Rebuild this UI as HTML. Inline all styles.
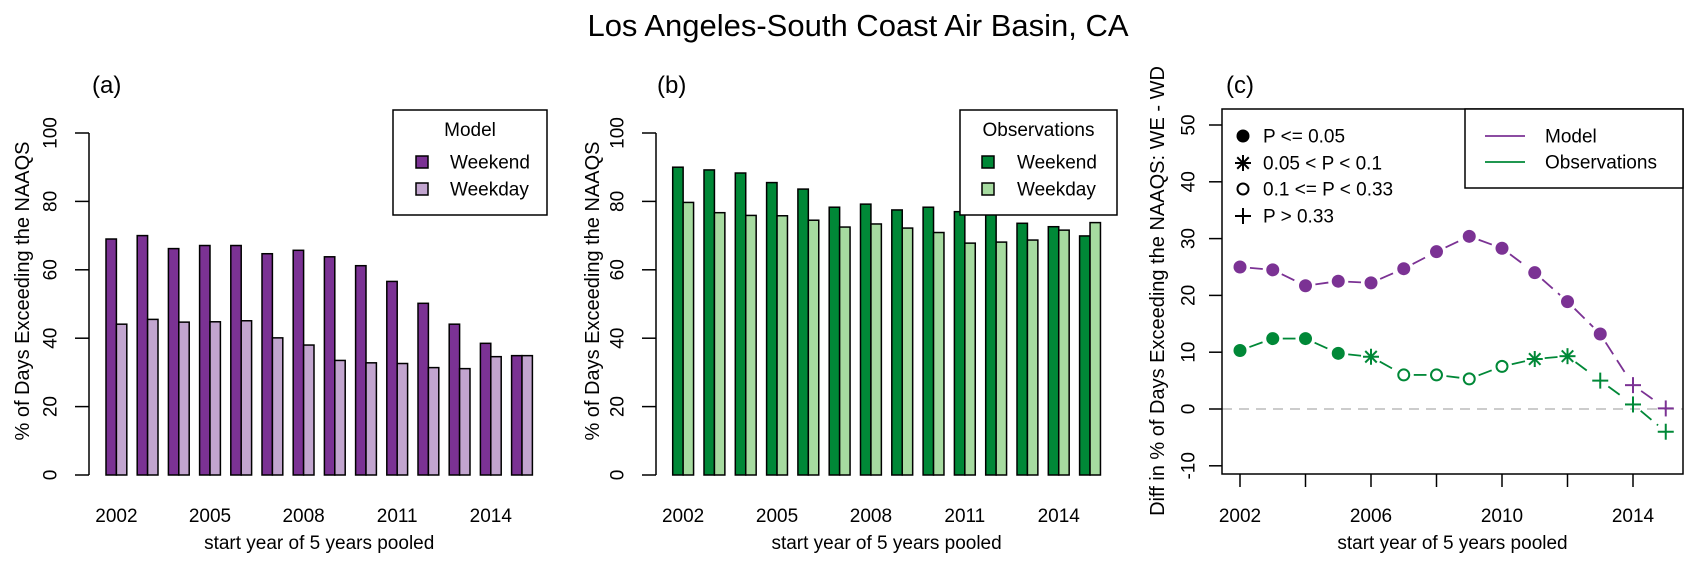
<!DOCTYPE html>
<html><head><meta charset="utf-8"><style>
html,body{margin:0;padding:0;background:#fff}
svg{display:block;font-family:"Liberation Sans",Arial,sans-serif}
</style></head><body>
<svg id="chart" width="1700" height="569" viewBox="0 0 1700 569" xmlns="http://www.w3.org/2000/svg">
<text x="858" y="36" font-size="31" text-anchor="middle">Los Angeles-South Coast Air Basin, CA</text>
<text x="92" y="93" font-size="24">(a)</text>
<text x="657" y="93" font-size="24">(b)</text>
<text x="1226" y="93" font-size="24">(c)</text>
<g id="pa"></g>
<g id="pb"></g>
<g id="pc"></g>
</svg>
<script>
const years = [2002,2003,2004,2005,2006,2007,2008,2009,2010,2011,2012,2013,2014,2015];
const modelWeekend = [69.0,70.0,66.2,67.1,67.1,64.7,65.7,63.8,61.2,56.6,50.2,44.1,38.5,34.9];
const modelWeekday = [44.1,45.5,44.7,44.8,45.1,40.1,38.0,33.5,32.8,32.6,31.4,31.1,34.6,34.9];
const obsWeekend = [90.0,89.2,88.3,85.5,83.6,78.3,79.2,77.5,78.3,77.0,80.0,73.6,72.6,69.9];
const obsWeekday = [79.7,76.7,75.9,75.8,74.5,72.5,73.4,72.2,70.9,67.8,68.1,68.7,71.6,73.8];
const diffModel = [25.0,24.5,21.7,22.5,22.2,24.7,27.7,30.4,28.3,24.0,18.9,13.2,4.2,0.1];
const diffObs = [10.3,12.4,12.4,9.8,9.2,6.0,6.0,5.3,7.5,8.8,9.3,5.0,0.8,-4.0];
const modelSig = ['dot','dot','dot','dot','dot','dot','dot','dot','dot','dot','dot','dot','plus','plus'];
const obsSig = ['dot','dot','dot','dot','star','circle','circle','circle','circle','star','star','plus','plus','plus'];
const barTicks = [0,20,40,60,80,100];
const barYearLabels = [2002,2005,2008,2011,2014];
const diffTicks = [-10,0,10,20,30,40,50];
const diffXTicks = [2002,2004,2006,2008,2010,2012,2014];
const diffXLabels = [2002,2006,2010,2014];

const NS='http://www.w3.org/2000/svg';
function mk(parent,tag,attrs,text){const e=document.createElementNS(NS,tag);for(const k in attrs)e.setAttribute(k,attrs[k]);if(text!==undefined)e.textContent=text;parent.appendChild(e);return e;}

function barPanel(g, axisX, firstBar, pitch, we, wd, cWe, cWd, legendTitle, lg, yTitleX, yLabX){
  const y=v=>475-v*3.42;
  const bw=pitch/3;
  const xs=i=>firstBar+i*pitch;
  let e=mk(g,'line',{x1:axisX,x2:axisX,y1:y(0),y2:y(100),stroke:'#000','stroke-width':1.5});
  
  
  barTicks.forEach(t=>{
    let l=mk(g,'line',{x1:axisX-14,x2:axisX,y1:y(t),y2:y(t),stroke:'#000','stroke-width':1.5});
    
    
    let tx=mk(g,'text',{x:yLabX,y:y(t),'font-size':19,'text-anchor':'middle',transform:`rotate(-90 ${yLabX} ${y(t)})`,dy:'0.35em'},String(t));
    
    
  });
  let yt=mk(g,'text',{x:yTitleX,y:291,'font-size':20,'text-anchor':'middle',transform:`rotate(-90 ${yTitleX} 291)`,dy:'0.35em'},'% of Days Exceeding the NAAQS');
  
  
  years.forEach((yr,i)=>{
    let b1=mk(g,'rect',{x:xs(i),y:y(we[i]),width:bw,height:y(0)-y(we[i]),fill:cWe,stroke:'#000','stroke-width':1.5});
    
    
    let b2=mk(g,'rect',{x:xs(i)+bw,y:y(wd[i]),width:bw,height:y(0)-y(wd[i]),fill:cWd,stroke:'#000','stroke-width':1.5});
    
    
  });
  barYearLabels.forEach(yr=>{
    const i=years.indexOf(yr);
    let t=mk(g,'text',{x:xs(i)+bw,y:522,'font-size':19,'text-anchor':'middle'},String(yr));
    
    
  });
  let xt=mk(g,'text',{x:(xs(0)+xs(13)+2*bw)/2,y:549,'font-size':19,'text-anchor':'middle'},'start year of 5 years pooled');
  
  
  const L=mk(g,'g',{});
  
  
  mk(L,'rect',{x:lg.x,y:110,width:lg.w,height:105,fill:'#fff',stroke:'#000','stroke-width':1.5});
  mk(L,'text',{x:lg.x+lg.w/2,y:136,'font-size':19,'text-anchor':'middle'},legendTitle);
  [['Weekend',cWe,162],['Weekday',cWd,189]].forEach(([n,c,yy])=>{
    let s=mk(L,'rect',{x:lg.sx-6,y:yy-6,width:12,height:12,fill:c,stroke:'#000','stroke-width':1.5});
    
    
    let t=mk(L,'text',{x:lg.tx,y:yy,'font-size':19,dy:'0.35em'},n);
    
    
  });
}
barPanel(document.getElementById('pa'),89,106,31.2,modelWeekend,modelWeekday,'#7B3294','#C2A5CF','Model',{x:393,w:154,sx:422,tx:450},22,50);
barPanel(document.getElementById('pb'),656,672.7,31.3,obsWeekend,obsWeekday,'#008837','#A6DBA0','Observations',{x:960,w:157,sx:988,tx:1017},592,617);

(function(){
  const g=document.getElementById('pc');
  const x=yr=>1240+(yr-2002)*32.75;
  const y=v=>409-v*5.68;
  const L=1222,R=1683,T=109,B=474;
  let zl=mk(g,'line',{x1:L,x2:R,y1:y(0),y2:y(0),stroke:'#bbb','stroke-width':1.5,'stroke-dasharray':'10 7'});
  
  
  let box=mk(g,'rect',{x:L,y:T,width:R-L,height:B-T,fill:'none',stroke:'#000','stroke-width':1.5});
  
  
  diffTicks.forEach(t=>{
    let l=mk(g,'line',{x1:L-13,x2:L,y1:y(t),y2:y(t),stroke:'#000','stroke-width':1.5});
    
    
    let tx=mk(g,'text',{x:1188,y:y(t),'font-size':19,'text-anchor':'middle',transform:`rotate(-90 1188 ${y(t)})`,dy:'0.35em'},String(t));
    
    
  });
  diffXTicks.forEach(t=>{
    let l=mk(g,'line',{x1:x(t),x2:x(t),y1:B,y2:B+13,stroke:'#000','stroke-width':1.5});
    
    
  });
  diffXLabels.forEach(t=>{
    let tx=mk(g,'text',{x:x(t),y:522,'font-size':19,'text-anchor':'middle'},String(t));
    
    
  });
  let xt=mk(g,'text',{x:(L+R)/2,y:549,'font-size':19,'text-anchor':'middle'},'start year of 5 years pooled');
  
  
  let yt=mk(g,'text',{x:1157,y:291,'font-size':20,'text-anchor':'middle',transform:'rotate(-90 1157 291)',dy:'0.35em'},'Diff in % of Days Exceeding the NAAQS: WE - WD');
  
  

  function marker(par,kind,cx,cy,c){
    if(kind==='dot') return mk(par,'circle',{cx,cy,r:6.5,fill:c});
    if(kind==='circle') return mk(par,'circle',{cx,cy,r:5.5,fill:'none',stroke:c,'stroke-width':2});
    const s=mk(par,'g',{stroke:c,'stroke-width':2});
    const r=8;
    mk(s,'line',{x1:cx-r,x2:cx+r,y1:cy,y2:cy});
    mk(s,'line',{x1:cx,x2:cx,y1:cy-r,y2:cy+r});
    if(kind==='star'){
      const d=r*0.72;
      mk(s,'line',{x1:cx-d,x2:cx+d,y1:cy-d,y2:cy+d});
      mk(s,'line',{x1:cx-d,x2:cx+d,y1:cy+d,y2:cy-d});
    }
    return s;
  }
  function series(vals,sig,c,name){
    const s=mk(g,'g',{});
    
    
    for(let i=0;i<years.length-1;i++){
      const x1=x(years[i]),y1=y(vals[i]),x2=x(years[i+1]),y2=y(vals[i+1]);
      const dx=x2-x1,dy=y2-y1,len=Math.hypot(dx,dy),gp=10;
      if(len<=2*gp) continue;
      const ux=dx/len,uy=dy/len;
      mk(s,'line',{x1:x1+ux*gp,y1:y1+uy*gp,x2:x2-ux*gp,y2:y2-uy*gp,stroke:c,'stroke-width':1.8,'stroke-dasharray':'14 7'});
    }
    years.forEach((yr,i)=>{
      const m=marker(s,sig[i],x(yr),y(vals[i]),c);
      
      
    });
  }
  series(diffModel,modelSig,'#7B3294','model-difference-series');
  series(diffObs,obsSig,'#008837','observation-difference-series');

  const pl=mk(g,'g',{});
  
  
  [['dot','P <= 0.05',136],['star','0.05 < P < 0.1',163],['circle','0.1 <= P < 0.33',189],['plus','P > 0.33',216]].forEach(([k,t,yy])=>{
    marker(pl,k,1243,yy,'#000');
    let tx=mk(pl,'text',{x:1263,y:yy,'font-size':19,dy:'0.35em'},t);
    
    
  });
  const sl=mk(g,'g',{});
  
  
  mk(sl,'rect',{x:1465,y:T,width:R-1465,height:188-T,fill:'#fff',stroke:'#000','stroke-width':1.5});
  [['Model','#7B3294',136],['Observations','#008837',162]].forEach(([n,c,yy])=>{
    mk(sl,'line',{x1:1485,x2:1525,y1:yy,y2:yy,stroke:c,'stroke-width':1.8});
    let tx=mk(sl,'text',{x:1545,y:yy,'font-size':19,dy:'0.35em'},n);
    
    
  });
})();
</script>
</body></html>
